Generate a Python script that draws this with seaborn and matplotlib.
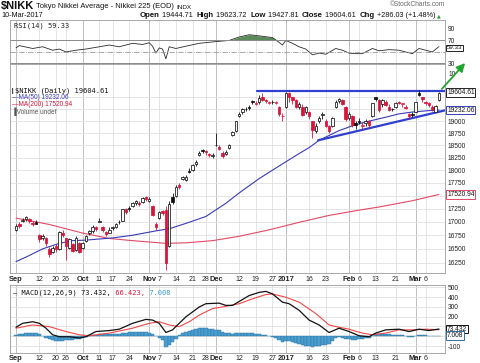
import matplotlib
matplotlib.use("Agg")
import matplotlib.pyplot as plt
import numpy as np
import pandas as pd
import seaborn as sns

# Trading days shown (Tokyo exchange holidays removed)
holidays = ["2016-09-19", "2016-09-22", "2016-10-10", "2016-11-03", "2016-11-23",
            "2016-12-23", "2017-01-02", "2017-01-03", "2017-01-09"]
days = pd.bdate_range("2016-09-01", "2017-03-10")
days = days[~days.isin(pd.to_datetime(holidays))]

tick_dates = ["2016-09-01", "2016-09-12", "2016-09-20", "2016-09-26", "2016-10-03", "2016-10-11",
              "2016-10-17", "2016-10-24", "2016-11-01", "2016-11-07", "2016-11-14", "2016-11-21",
              "2016-11-28", "2016-12-01", "2016-12-12", "2016-12-19", "2016-12-27", "2017-01-04",
              "2017-01-16", "2017-01-23", "2017-02-01", "2017-02-06", "2017-02-13", "2017-02-21",
              "2017-03-01", "2017-03-06"]
tick_labels = ["Sep", "12", "20", "26", "Oct", "11", "17", "24", "Nov", "7", "14", "21", "28",
               "Dec", "12", "19", "27", "2017", "16", "23", "Feb", "6", "13", "21", "Mar", "6"]

# Daily OHLC
prev_close0 = 16887
opens = [16850, 16950, 17020, 17060, 17050, 16980, 16990, 16760, 16690, 16700,
         16500, 16450, 16560, 16500, 16800, 16690, 16520, 16580, 16470, 16600,
         16520, 16640, 16800, 16830, 16900, 17000, 16900, 16810, 16800, 16880,
         16900, 16990, 17020, 17240, 17260, 17300, 17350, 17360, 17380, 17480,
         17400, 17300, 16950, 17080, 17200, 17230, 16550, 17480, 17500, 17700,
         17820, 17800, 17980, 18000, 18120, 18300, 18400, 18380, 18330, 18290,
         18500, 18460, 18350, 18330, 18450, 18700, 18800, 19100, 19190, 19260,
         19300, 19420, 19350, 19400, 19500, 19430, 19380, 19400, 19390, 19300,
         19100, 19298, 19600, 19500, 19450, 19300, 19300, 19200, 19200, 19000,
         18800, 19000, 19130, 19000, 18900, 18900, 19300, 19420, 19450, 19300,
         19060, 19100, 18950, 18990, 18900, 18950, 18990, 19100, 19500, 19450,
         19350, 19400, 19300, 19260, 19300, 19400, 19350, 19300, 19150, 19150,
         19200, 19600, 19500, 19400, 19380, 19300, 19200, 19444.71]
highs = [16960, 16990, 17080, 17100, 17070, 17010, 17040, 16770, 16780, 16720,
         16530, 16550, 16580, 16830, 16840, 16700, 16700, 16600, 16730, 16620,
         16630, 16760, 16850, 16940, 16920, 17070, 16920, 16830, 16900, 16930,
         16980, 17040, 17250, 17260, 17300, 17380, 17410, 17390, 17470, 17500,
         17470, 17310, 17000, 17200, 17220, 17300, 17400, 17550, 17700, 17740,
         17890, 17900, 18030, 18120, 18200, 18380, 18420, 18400, 18350, 18340,
         18750, 18500, 18380, 18400, 18530, 18800, 19000, 19200, 19280, 19300,
         19330, 19440, 19430, 19550, 19600, 19470, 19420, 19440, 19420, 19320,
         19170, 19615, 19615, 19520, 19470, 19400, 19350, 19320, 19220, 19010,
         18950, 19100, 19200, 19050, 18920, 19080, 19450, 19490, 19460, 19320,
         19200, 19120, 19000, 19060, 18980, 19050, 19020, 19390, 19520, 19460,
         19460, 19450, 19350, 19280, 19400, 19430, 19390, 19330, 19160, 19200,
         19410, 19670, 19520, 19420, 19400, 19330, 19330, 19623.72]
lows = [16830, 16880, 16990, 17010, 16980, 16930, 16950, 16620, 16660, 16560,
        16360, 16430, 16450, 16480, 16720, 16300, 16500, 16440, 16460, 16420,
        16500, 16620, 16760, 16800, 16830, 16990, 16810, 16740, 16790, 16850,
        16880, 16960, 17010, 17140, 17200, 17280, 17320, 17300, 17360, 17400,
        17370, 17100, 16850, 17060, 17130, 16111, 16530, 17330, 17480, 17620,
        17800, 17780, 17940, 17990, 18080, 18280, 18350, 18310, 18260, 18250,
        18480, 18400, 18250, 18300, 18430, 18680, 18780, 19080, 19150, 19220,
        19240, 19360, 19340, 19350, 19420, 19380, 19360, 19370, 19350, 19100,
        18990, 19280, 19400, 19350, 19280, 19260, 19100, 19150, 19050, 18650,
        18750, 18950, 19050, 18870, 18750, 18880, 19280, 19380, 19330, 19000,
        19030, 18880, 18830, 18940, 18830, 18900, 18850, 19080, 19420, 19200,
        19300, 19320, 19210, 19220, 19280, 19350, 19300, 19250, 19040, 19080,
        19180, 19540, 19400, 19330, 19300, 19220, 19180, 19427.81]
closes = [16926, 16925, 17037, 17081, 17012, 16958, 16965, 16672, 16729, 16614,
          16405, 16519, 16492, 16807, 16754, 16544, 16683, 16465, 16693, 16449,
          16598, 16735, 16819, 16899, 16860, 17024, 16840, 16774, 16856, 16900,
          16963, 16998, 17235, 17184, 17234, 17365, 17391, 17336, 17446, 17425,
          17442, 17134, 16905, 17177, 17171, 16251, 17344, 17374, 17672, 17668,
          17862, 17862, 17967, 18106, 18162, 18333, 18381, 18356, 18307, 18308,
          18513, 18426, 18274, 18360, 18496, 18765, 18996, 19155, 19250, 19253,
          19273, 19401, 19391, 19494, 19444, 19427, 19396, 19403, 19401, 19145,
          19114, 19594, 19520, 19454, 19301, 19364, 19134, 19287, 19095, 18813,
          18894, 19072, 19137, 18891, 18787, 19057, 19402, 19467, 19368, 19041,
          19148, 18914, 18918, 18976, 18910, 19007, 18907, 19378, 19459, 19238,
          19437, 19347, 19234, 19251, 19381, 19379, 19371, 19283, 19107, 19118,
          19393, 19564, 19469, 19379, 19344, 19254, 19318, 19604.61]

# Moving averages
ma50_x = [0, 3, 8, 13, 17, 21, 25, 29, 35, 42, 46, 51, 57, 63, 67, 73, 79, 85, 88, 91,
          97, 101, 105, 111, 115, 119, 125, 127]
ma50_y = [16270, 16350, 16500, 16600, 16650, 16660, 16680, 16700, 16750, 16830, 16870,
          16970, 17100, 17350, 17550, 17830, 18080, 18330, 18450, 18600, 18800, 18900,
          18980, 19080, 19150, 19190, 19225, 19232.06]
ma200_x = [0, 10, 20, 28, 35, 45, 51, 59, 67, 76, 85, 94, 103, 109, 119, 127]
ma200_y = [17070, 16950, 16790, 16690, 16650, 16600, 16610, 16650, 16730, 16850, 16990,
           17120, 17220, 17280, 17400, 17520.94]

# Drawn trendlines
resist_x = [72.5, 128.8]
resist_y = [19640, 19640]
support_x = [90.7, 128.8]
support_y = [18600, 19225]

# RSI(14)
rsi_x = [0, 1, 5, 8, 11, 13, 15, 18, 21, 25, 28, 31, 35, 38, 40, 41, 42, 43, 44, 45, 46,
         48, 51, 55, 60, 64, 67, 70, 73, 77, 78, 80, 81, 83, 85, 87, 89, 91, 93, 96, 98,
         100, 102, 104, 107, 109, 112, 115, 117, 119, 121, 123, 125, 127]
rsi_y = [57, 61, 56, 59, 53, 55, 50, 53, 55, 59, 62, 59, 65, 63, 66, 60, 48, 57, 55, 38,
         59, 56, 60, 65, 68, 70, 76, 80, 78, 75, 71, 62, 70, 65, 59, 55, 45, 48, 46, 56,
         53, 48, 47, 47, 56, 52, 54, 53, 50, 47, 56, 53, 50, 59.33]

# MACD(12,26,9)
macd_x = [0, 2, 5, 7, 9, 11, 13, 16, 19, 21, 24, 28, 31, 35, 39, 41, 43, 45, 47, 49, 51,
          55, 57, 61, 63, 65, 67, 70, 73, 75, 77, 80, 82, 85, 88, 91, 94, 97, 100, 103,
          106, 108, 111, 115, 118, 121, 124, 127]
macd_y = [92, 132, 148, 132, 82, 15, -5, -5, -18, -5, 48, 58, 72, 132, 172, 165, 132, 38,
          65, 132, 198, 298, 332, 338, 315, 315, 355, 415, 448, 458, 432, 348, 332, 265,
          165, 115, 38, 82, 48, 5, -5, 32, 65, 72, 48, 72, 58, 73.432]
sig_x = [0, 5, 10, 15, 19, 22, 28, 35, 40, 43, 46, 49, 52, 55, 59, 63, 67, 71, 75, 77, 81,
         85, 90, 94, 97, 100, 104, 107, 111, 115, 119, 123, 127]
sig_y = [82, 115, 98, 48, 15, 5, 32, 82, 132, 148, 115, 98, 148, 215, 282, 305, 332, 382,
         425, 432, 398, 348, 232, 115, 92, 72, 32, 15, 32, 65, 65, 72, 66.423]
hist = [10, 18, 25, 30, 33, 33, 28, 18, 2, -15, -28, -38, -45, -48, -45, -42, -35, -35,
        -30, -32, -22, -12, -2, 8, 15, 22, 22, 20, 22, 24, 25, 27, 32, 35, 40, 42, 45, 43,
        42, 40, 35, 22, 5, -15, -40, -110, -90, -60, -25, 8, 28, 45, 58, 68, 75, 80, 82,
        80, 78, 75, 68, 60, 45, 35, 28, 25, 30, 33, 35, 33, 30, 28, 25, 22, 15, 8, 0, -5,
        -22, -40, -55, -45, -48, -55, -68, -78, -88, -95, -100, -105, -102, -95, -88, -85,
        -78, -50, -20, -10, -15, -25, -25, -35, -35, -32, -30, -22, -20, 5, 20, 18, 25,
        25, 20, 15, 15, 12, 10, 5, -5, -10, 2, 12, 12, 8, 5, 0, -2, 7.008]

# tick labels hidden in the original behind the value boxes are left blank
price_ticks = [16250, 16500, 16750, 17000, 17250, 17500, 17750, 18000, 18250, 18500,
               18750, 19000, 19250, 19500]
price_labels = ["16250", "16500", "16750", "17000", "17250", "", "17750", "18000", "18250",
                "18500", "18750", "19000", "", ""]
rsi_ticks = [90, 70, 50, 30]
rsi_labels = ["90", "70", "", "30"]
macd_ticks = [-100, 0, 100, 200, 300, 400, 500]
macd_labels = ["-100", "", "", "200", "300", "400", "500"]

RED = "#d8143a"
BLUE = "#3a3ab8"
MONO = "DejaVu Sans Mono"

sns.set_style("white")
plt.rcParams["font.family"] = ["Liberation Sans", "DejaVu Sans"]

x = np.arange(len(days))
tick_idx = days.get_indexer(pd.to_datetime(tick_dates))
is_month = [(not t.isdigit()) or t == "2017" for t in tick_labels]

fig = plt.figure(figsize=(4.8, 3.63), dpi=100)
L, W = 10 / 480, 435 / 480
ax_rsi = fig.add_axes([L, 1 - 64 / 363, W, 44 / 363])
ax = fig.add_axes([L, 1 - 273 / 363, W, 209 / 363])
ax_macd = fig.add_axes([L, 1 - 352.5 / 363, W, 67.5 / 363])

for a in (ax_rsi, ax, ax_macd):
    a.set_xlim(-1.8, 128.8)
    for i, m in zip(tick_idx, is_month):
        a.axvline(i, color="#b4b4b4" if m else "#e0e0e0", lw=0.6, zorder=0)
    a.yaxis.tick_right()
    a.tick_params(axis="both", length=0, labelsize=4.8, pad=2, labelcolor="#222222")
    for s in a.spines.values():
        s.set_color("#9a9a9a")
        s.set_linewidth(0.6)


def value_box(a, val, txt, ec, size=4.8):
    a.annotate(txt, xy=(1, val), xycoords=("axes fraction", "data"), xytext=(1.5, 0),
               textcoords="offset points", va="center", ha="left", fontsize=size,
               color="#111111", annotation_clip=False, zorder=10,
               bbox=dict(boxstyle="square,pad=0.1", fc="white", ec=ec, lw=0.7))


# ---- RSI panel
sns.lineplot(x=rsi_x, y=rsi_y, ax=ax_rsi, color="#2a2a2a", lw=0.6, estimator=None)
rx = np.array(rsi_x, dtype=float)
ry = np.array(rsi_y, dtype=float)
ax_rsi.fill_between(rx, ry, 70, where=ry > 70, interpolate=True, color="#5b8a5b", lw=0)
ax_rsi.axhline(70, color="#8a8a8a", lw=0.7)
ax_rsi.axhline(30, color="#8a8a8a", lw=0.7)
ax_rsi.axhline(50, color="#9a9a9a", lw=0.6, ls="-.")
ax_rsi.set_ylim(29, 105.6)
ax_rsi.set_yticks(rsi_ticks)
ax_rsi.set_yticklabels(rsi_labels)
ax_rsi.set_xticks(tick_idx)
ax_rsi.set_xticklabels([])
ax_rsi.set_xlabel("")
ax_rsi.set_ylabel("")
ax_rsi.text(1.008, 10, "10", transform=ax_rsi.get_yaxis_transform(), fontsize=4.8,
            va="center", ha="left", color="#222222", clip_on=False)
ax_rsi.text((14 - 10) / 435, 0.88, "RSI(14) 59.33", transform=ax_rsi.transAxes,
            fontsize=5, family=MONO, va="center", color="#222222")
value_box(ax_rsi, 57.5, "59.33", "#222222", size=4.4)

# ---- Price panel
ax.set_yscale("log")
sns.lineplot(x=ma200_x, y=ma200_y, ax=ax, color="#e04a66", lw=0.8, estimator=None)
sns.lineplot(x=ma50_x, y=ma50_y, ax=ax, color=BLUE, lw=0.8, estimator=None)

o = np.array(opens)
c = np.array(closes)
prev = np.concatenate([[prev_close0], c[:-1]])
edge = np.where(c >= prev, "#111111", RED)
face = np.where(c > o, "white", edge)
bottom = np.minimum(o, c)
height = np.maximum(np.abs(c - o), 10)
ax.vlines(x, lows, highs, colors=edge, lw=0.6, zorder=3)
ax.bar(x, height, bottom=bottom, width=0.75, color=face, edgecolor=edge, linewidth=0.55,
       zorder=4)

sns.lineplot(x=resist_x, y=resist_y, ax=ax, color="#2f3fd0", lw=1.6, estimator=None)
sns.lineplot(x=support_x, y=support_y, ax=ax, color="#2f3fd0", lw=1.6, estimator=None)

ax.set_ylim(16066, 20234)
ax.set_yticks(price_ticks)
ax.set_yticks([], minor=True)
ax.set_yticklabels(price_labels)
ax.grid(axis="y", color="#e0e0e0", lw=0.6)
ax.set_axisbelow(True)
ax.set_xticks(tick_idx)
ax.set_xticklabels(tick_labels)
ax.set_xlabel("")
ax.set_ylabel("")
for lab, m in zip(ax.get_xticklabels(), is_month):
    lab.set_fontweight("bold" if m else "normal")
    lab.set_fontsize(5.4 if m else 5.0)

value_box(ax, 19604.61, "19604.61", "#222222")
value_box(ax, 19232.06, "19232.06", BLUE)
value_box(ax, 17520.94, "17520.94", "#e04a66")


def fa(px, py):
    return (px - 10) / 435, (273 - py) / 209


ax.text(*fa(10, 91), "\u2759", transform=ax.transAxes, fontsize=4.5, va="center",
        color="#333333", family="DejaVu Sans")
ax.text(*fa(15, 91), "$NIKK (Daily) 19604.61", transform=ax.transAxes, fontsize=5.1,
        family=MONO, va="center", color="#111111")
ax.text(*fa(12, 97.7), "\u2014MA(50) 19232.06", transform=ax.transAxes, fontsize=4.7,
        va="center", color=BLUE)
ax.text(*fa(12, 104.3), "\u2014MA(200) 17520.94", transform=ax.transAxes, fontsize=4.7,
        va="center", color=RED)
ax.text(*fa(12, 111.3), "\u2590Volume undef", transform=ax.transAxes, fontsize=4.7,
        va="center", color="#555555", family=["Liberation Sans", "DejaVu Sans"])

ax.annotate("", xy=fa(467, 61), xycoords="axes fraction", xytext=fa(440, 91),
            textcoords="axes fraction", annotation_clip=False, zorder=12,
            arrowprops=dict(arrowstyle="-|>,head_length=0.5,head_width=0.25",
                            color="#1fa52f", lw=1.3))

# ---- MACD panel
ax_macd.bar(x, hist, width=1.0, color="#4a9fd0", edgecolor="#2b6f9e", linewidth=0.3,
            zorder=2)
sns.lineplot(x=sig_x, y=sig_y, ax=ax_macd, color="#f04848", lw=0.8, estimator=None,
             zorder=3)
sns.lineplot(x=macd_x, y=macd_y, ax=ax_macd, color="#111111", lw=0.9, estimator=None,
             zorder=4)
ax_macd.set_ylim(-166, 523)
ax_macd.set_yticks(macd_ticks)
ax_macd.set_yticklabels(macd_labels)
ax_macd.grid(axis="y", color="#e0e0e0", lw=0.6)
ax_macd.set_axisbelow(True)
ax_macd.set_xticks(tick_idx)
ax_macd.set_xticklabels(tick_labels)
ax_macd.set_xlabel("")
ax_macd.set_ylabel("")
for lab, m in zip(ax_macd.get_xticklabels(), is_month):
    lab.set_fontweight("bold" if m else "normal")
    lab.set_fontsize(5.4 if m else 5.0)
value_box(ax_macd, 73.432, "73.432", "#111111")
value_box(ax_macd, 7.008, "7.008", "#2b6f9e")

prev_t = ax_macd.annotate("\u2014 MACD(12,26,9) 73.432,", xy=((13 - 10) / 435, 0.89),
                          xycoords="axes fraction", fontsize=5, family=MONO,
                          va="center", color="#111111")
for s, col in [(" 66.423,", RED), (" 7.008", "#3a9ad0")]:
    prev_t = ax_macd.annotate(s, xy=(1, 0), xycoords=prev_t, fontsize=5, family=MONO,
                              va="bottom", ha="left", color=col)

# ---- Header
h1 = ax_rsi.annotate("$NIKK", xy=(1 / 480, 1 - 6.5 / 363), xycoords="figure fraction",
                     fontsize=8, fontweight="bold", va="center", color="#111111")
h1b = ax_rsi.annotate(" Tokyo Nikkei Average - Nikkei 225 (EOD) ", xy=(1, 0.12),
                      xycoords=h1, fontsize=5.4, va="bottom", color="#111111")
ax_rsi.annotate("INDX", xy=(1, 0), xycoords=h1b, fontsize=4.6, va="bottom",
                color="#111111")
ax_rsi.annotate("\u00a9StockCharts.com", xy=(445 / 480, 1 - 5 / 363),
                xycoords="figure fraction", fontsize=4.8, va="center", ha="right",
                color="#666666")
ax_rsi.annotate("10-Mar-2017", xy=(1 / 480, 1 - 15.5 / 363), xycoords="figure fraction",
                fontsize=5.2, va="center", color="#111111")

pieces = [("Open", "bold"), (" 19444.71  ", "normal"), ("High", "bold"),
          (" 19623.72  ", "normal"), ("Low", "bold"), (" 19427.81  ", "normal"),
          ("Close", "bold"), (" 19604.61  ", "normal"), ("Chg", "bold"),
          (" +286.03 (+1.48%) ", "normal")]
prev_t = ax_rsi.annotate(pieces[0][0], xy=(140 / 480, 1 - 15.5 / 363),
                         xycoords="figure fraction", fontsize=5.6, fontweight="bold",
                         va="center", color="#111111")
for s, w in pieces[1:]:
    prev_t = ax_rsi.annotate(s, xy=(1, 0), xycoords=prev_t,
                             fontsize=5.6 if w == "bold" else 5.2,
                             fontweight=w, va="bottom", color="#111111")
ax_rsi.annotate("\u25b2", xy=(1, 0.1), xycoords=prev_t, fontsize=3.5, va="bottom",
                color="#1fa52f", family="DejaVu Sans")

fig.savefig("out.png", dpi=100)
